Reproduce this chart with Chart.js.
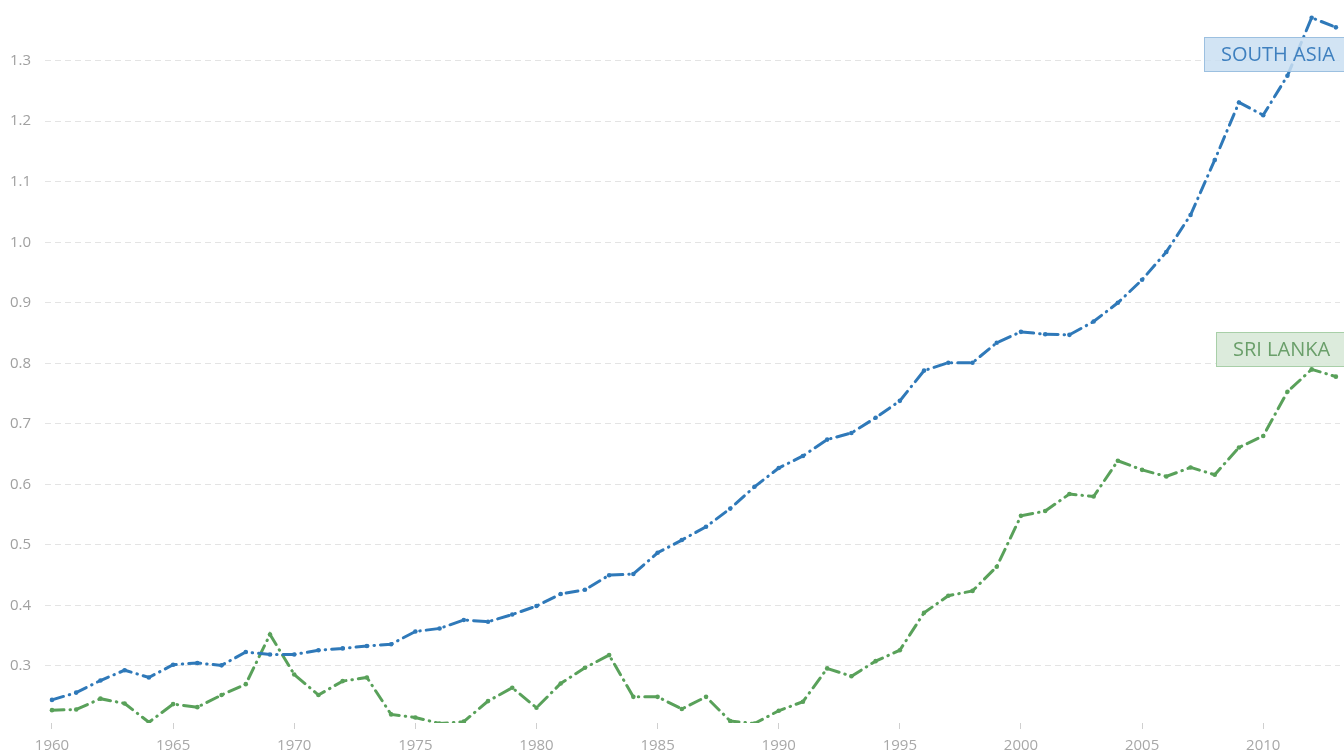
<!DOCTYPE html>
<html>
<head>
<meta charset="utf-8">
<script src="https://cdn.jsdelivr.net/npm/chart.js@4/dist/chart.umd.min.js"></script>
<style>
    html, body { margin: 0; padding: 0; background: #fff; }
    #wrap { width: 1344px; height: 753px; position: relative; }
</style>
</head>
<body>
<div id="wrap"><canvas id="chart"></canvas></div>
<script>
// --- DATA ---
const years = [
    1960, 1961, 1962, 1963, 1964, 1965, 1966, 1967, 1968, 1969,
    1970, 1971, 1972, 1973, 1974, 1975, 1976, 1977, 1978, 1979,
    1980, 1981, 1982, 1983, 1984, 1985, 1986, 1987, 1988, 1989,
    1990, 1991, 1992, 1993, 1994, 1995, 1996, 1997, 1998, 1999,
    2000, 2001, 2002, 2003, 2004, 2005, 2006, 2007, 2008, 2009,
    2010, 2011, 2012, 2013
];

const southAsia = [
    0.244, 0.256, 0.276, 0.293, 0.281, 0.302, 0.305, 0.301, 0.323, 0.319,
    0.319, 0.326, 0.329, 0.333, 0.336, 0.357, 0.362, 0.376, 0.373, 0.385,
    0.399, 0.419, 0.426, 0.450, 0.452, 0.487, 0.508, 0.530, 0.560, 0.596,
    0.627, 0.647, 0.674, 0.685, 0.710, 0.738, 0.788, 0.801, 0.801, 0.834,
    0.852, 0.848, 0.847, 0.869, 0.900, 0.938, 0.984, 1.045, 1.136, 1.231,
    1.210, 1.275, 1.371, 1.355
];

const sriLanka = [
    0.227, 0.228, 0.246, 0.238, 0.207, 0.237, 0.232, 0.252, 0.270, 0.352,
    0.286, 0.252, 0.275, 0.281, 0.220, 0.215, 0.205, 0.208, 0.242, 0.264,
    0.231, 0.271, 0.297, 0.318, 0.249, 0.249, 0.229, 0.249, 0.209, 0.205,
    0.226, 0.241, 0.296, 0.283, 0.308, 0.326, 0.388, 0.416, 0.424, 0.464,
    0.548, 0.556, 0.584, 0.580, 0.639, 0.624, 0.613, 0.628, 0.616, 0.661,
    0.680, 0.753, 0.790, 0.778
];

const xTicks = [1960, 1965, 1970, 1975, 1980, 1985, 1990, 1995, 2000, 2005, 2010];
const yTicks = [0.3, 0.4, 0.5, 0.6, 0.7, 0.8, 0.9, 1.0, 1.1, 1.2, 1.3];

const seriesNames = ['SOUTH ASIA', 'SRI LANKA'];

// --- STYLE ---
const BLUE = '#2f79b9';
const GREEN = '#59a15a';
const FONT = "'Open Sans', 'Noto Sans', sans-serif";

const toPoints = vals => years.map((yr, i) => ({ x: yr, y: vals[i] }));

// series tags drawn over the lines, boxes placed at value heights
const seriesTags = {
    id: 'seriesTags',
    afterDatasetsDraw(chart, args, opts) {
        const { ctx, scales } = chart;
        opts.tags.forEach(t => {
            const cy = Math.round(scales.y.getPixelForValue(t.at));
            ctx.save();
            ctx.font = `20px ${FONT}`;
            const w = ctx.measureText(t.text).width + 32;
            const h = 34;
            ctx.fillStyle = t.fill;
            ctx.strokeStyle = t.stroke;
            ctx.lineWidth = 1;
            ctx.fillRect(t.left + 0.5, cy - h / 2 + 0.5, w, h);
            ctx.strokeRect(t.left + 0.5, cy - h / 2 + 0.5, w, h);
            ctx.fillStyle = t.color;
            ctx.textBaseline = 'middle';
            ctx.fillText(t.text, t.left + 17, cy + 1);
            ctx.restore();
        });
    }
};

const ctx = document.getElementById('chart');

new Chart(ctx, {
    type: 'line',
    data: {
        datasets: [
            {
                label: seriesNames[0],
                data: toPoints(southAsia),
                borderColor: BLUE,
                backgroundColor: BLUE,
                borderWidth: 3,
                borderDash: [12, 6, 0.5, 6],
                borderCapStyle: 'round',
                pointRadius: 2.3,
                pointBorderWidth: 0,
                tension: 0
            },
            {
                label: seriesNames[1],
                data: toPoints(sriLanka),
                borderColor: GREEN,
                backgroundColor: GREEN,
                borderWidth: 3,
                borderDash: [12, 6, 0.5, 6],
                borderCapStyle: 'round',
                pointRadius: 2.3,
                pointBorderWidth: 0,
                tension: 0
            }
        ]
    },
    options: {
        responsive: true,
        maintainAspectRatio: false,
        animation: false,
        layout: { padding: { left: 10, right: 0, top: 0, bottom: 0 } },
        plugins: {
            legend: { display: false },
            tooltip: { enabled: false },
            seriesTags: {
                tags: [
                    { text: seriesNames[0], at: 1.3116, left: 1204, fill: 'rgba(202,223,242,0.85)', stroke: '#9cc0e0', color: '#3f80bf' },
                    { text: seriesNames[1], at: 0.823, left: 1216, fill: 'rgba(216,233,216,0.9)', stroke: '#a8cfa8', color: '#6a9f6a' }
                ]
            }
        },
        scales: {
            x: {
                type: 'linear',
                min: 1959.712,
                max: 2013.17,
                afterBuildTicks: s => { s.ticks = xTicks.map(v => ({ value: v })); },
                afterFit: s => { s.height = 30; s.paddingLeft = 0; s.paddingRight = 0; },
                grid: { drawOnChartArea: false, drawTicks: true, tickLength: 6, tickColor: '#cfcfcf' },
                border: { display: false },
                ticks: {
                    padding: 8,
                    color: '#a8a8a8',
                    font: { family: FONT, size: 15 },
                    maxRotation: 0,
                    callback: v => String(v)
                }
            },
            y: {
                min: 0.2058,
                max: 1.3936,
                afterBuildTicks: s => { s.ticks = yTicks.map(v => ({ value: v })); },
                afterFit: s => { s.width = 35; s.paddingTop = 0; s.paddingBottom = 0; },
                grid: { color: '#e4e4e4', lineWidth: 1, drawTicks: false },
                border: { display: false, dash: [6, 4] },
                ticks: {
                    crossAlign: 'far',
                    color: '#a0a0a0',
                    font: { family: FONT, size: 15 },
                    callback: v => Number(v).toFixed(1)
                }
            }
        }
    },
    plugins: [seriesTags]
});
</script>
</body>
</html>
